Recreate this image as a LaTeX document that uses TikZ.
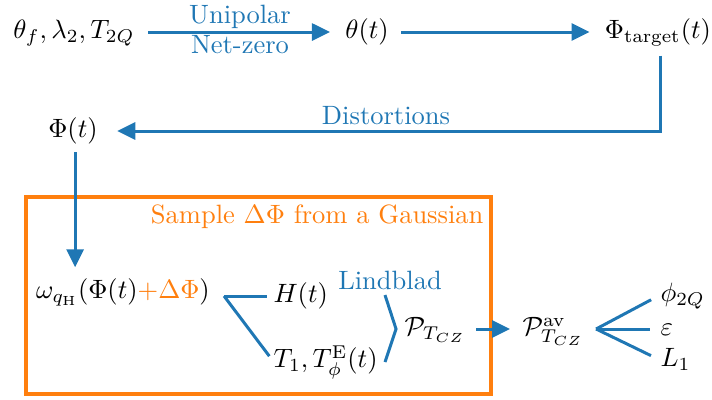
\documentclass[tikz,border=0pt]{standalone}
\usetikzlibrary{arrows.meta}
\definecolor{tblue}{RGB}{31,119,180}
\definecolor{torange}{RGB}{255,127,14}
\begin{document}
\begin{tikzpicture}[x=0.3774pt,y=-0.3774pt,
  math/.style={inner sep=0pt,text height=7.5pt,text depth=2.5pt},
  blab/.style={text=tblue,inner sep=0pt},
  conn/.style={draw=tblue,line width=1.13pt},
  arr/.style={conn,-{Triangle[length=6.8pt,width=6.4pt]}},
  frame/.style={draw=torange,line width=1.45pt}]
\useasboundingbox (0,0) rectangle (712,399);
% orange frame
\draw[frame] (26,197) rectangle (491,394);
% math nodes
\node[math] (in) at (74,32) {$\theta_f, \lambda_2, T_{2Q}$};
\node[math] (th) at (367,32) {$\theta(t)$};
\node[math] (pt) at (658,32) {$\Phi_{\mathrm{target}}(t)$};
\node[math] (phi) at (73,131) {$\Phi(t)$};
\node[math] (w) at (123,292) {$\omega_{q_{\mathrm{H}}}(\Phi(t){\color{torange}+\Delta\Phi})$};
\node[math,anchor=west] (H) at (273,296) {$H(t)$};
\node[math,anchor=west] (T) at (273,361) {$T_1, T^{\mathrm{E}}_{\phi}(t)$};
\node[math,anchor=west] (P) at (404,329) {$\mathcal{P}_{T_{CZ}}$};
\node[math,anchor=west] (Pav) at (522,329) {$\mathcal{P}^{\mathrm{av}}_{T_{CZ}}$};
\node[math,anchor=west] (o1) at (660,295) {$\phi_{2Q}$};
\node[math,anchor=west] (o2) at (660,329) {$\varepsilon$};
\node[math,anchor=west] (o3) at (660,360) {$L_1$};
% labels
\node[blab,anchor=base] (u1) at (240,23) {Unipolar};
\node[blab,anchor=base] (u2) at (240,53) {Net-zero};
\node[blab,anchor=base] (dist) at (386,124) {Distortions};
\node[blab,anchor=base] (lind) at (390,289) {Lindblad};
\node[text=torange,inner sep=0pt,anchor=base east] (samp) at (484,223) {Sample $\Delta\Phi$ from a Gaussian};
% connectors
\draw[arr,shorten <=4.9pt,shorten >=5.6pt] (in) -- (th);
\draw[arr,shorten <=4.5pt,shorten >=5.6pt] (th) -- (pt);
\draw[arr,shorten <=3.7pt,shorten >=7.2pt] ([xshift=1.1pt]pt.south) |- (phi.east);
\draw[arr,shorten <=2.9pt,shorten >=4.1pt] ([xshift=0.8pt]phi.south) -- ([xshift=0.8pt]phi.south |- w.north);
\coordinate (f1) at (224,296);
\draw[conn,shorten >=2.3pt] (f1) -- (H.west);
\draw[conn,shorten >=2.3pt] (f1) -- (T.west);
\coordinate (b1) at (385,295);
\coordinate (b2) at ([xshift=-3pt]P.west);
\coordinate (b3) at (385,362);
\draw[conn] (b1) -- (b2) -- (b3);
\draw[arr,shorten <=3.8pt,shorten >=4.5pt] (P) -- (Pav);
\coordinate (fan) at ([xshift=4.5pt]Pav.east);
\draw[conn,shorten >=3.8pt] (fan) -- (o1.west);
\draw[conn,shorten >=3.8pt] (fan) -- (o2.west);
\draw[conn,shorten >=3.8pt] (fan) -- (o3.west);
\end{tikzpicture}
\end{document}
